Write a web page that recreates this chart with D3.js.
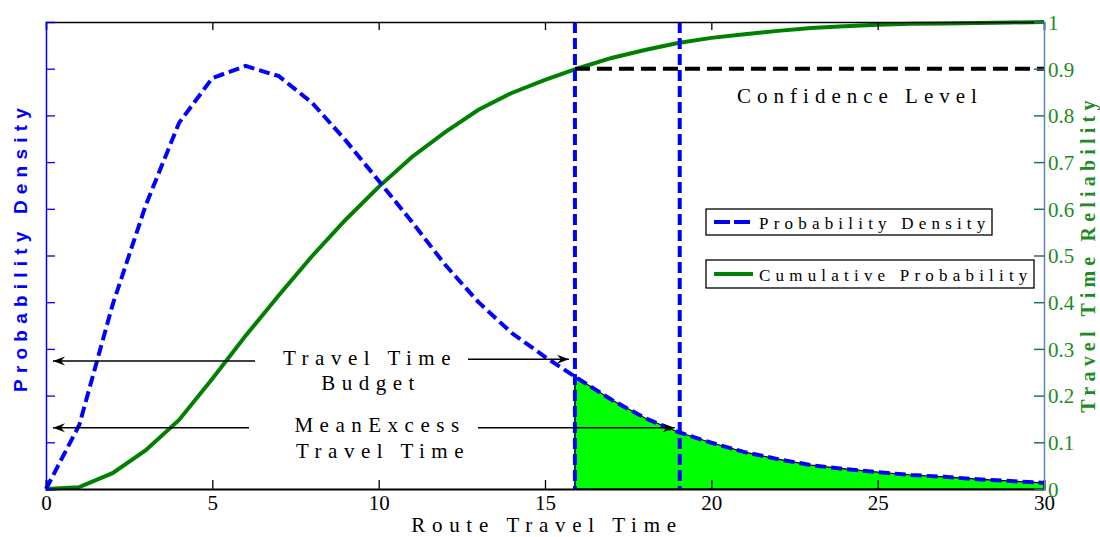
<!DOCTYPE html>
<html>
<head>
<meta charset="utf-8">
<script src="https://cdn.jsdelivr.net/npm/d3@7"></script>
<style>
    body { margin: 0; background: #fff; }
    svg { display: block; }
    .serif { font-family: "Liberation Serif", "Times New Roman", serif; }
</style>
</head>
<body>
<div id="graphDiv"></div>
<script>
// route travel time (x), probability density (left), cumulative probability (right)
var travelTime = [0, 1, 2, 3, 4, 5, 6, 7, 8, 9, 10, 11, 12, 13, 14, 15,
    16, 17, 18, 19, 20, 21, 22, 23, 24, 25, 26, 27, 28, 29, 30];
var density = [0, 0.0137, 0.0394, 0.0608, 0.0784, 0.0880, 0.0906, 0.0884, 0.0827, 0.0747,
    0.0660, 0.0572, 0.0480, 0.0400, 0.0334, 0.0283, 0.0236, 0.0191, 0.0152, 0.0122,
    0.0099, 0.0079, 0.0064, 0.0051, 0.0043, 0.0036, 0.0030, 0.0026, 0.0021, 0.0017, 0.0013];
var cumulative = [0, 0.004, 0.034, 0.083, 0.148, 0.236, 0.328, 0.415, 0.499, 0.576,
    0.647, 0.711, 0.764, 0.812, 0.848, 0.876, 0.901, 0.923, 0.940, 0.955,
    0.966, 0.974, 0.981, 0.987, 0.991, 0.994, 0.996, 0.997, 0.998, 0.999, 1.0];

var xTicks = [0, 5, 10, 15, 20, 25, 30];
var rightTicks = [0, 0.1, 0.2, 0.3, 0.4, 0.5, 0.6, 0.7, 0.8, 0.9, 1];
var leftTicks = [0.01, 0.02, 0.03, 0.04, 0.05, 0.06, 0.07, 0.08, 0.09];

var confidenceLevel = 0.9;
var travelTimeBudget = 15.9;
var meanExcessTime = 19.05;

(function () {
    var W = 1100, H = 537;
    var pLeft = 46, pRight = 1044, pTop = 22, pBottom = 489;

    var svg = d3.select("#graphDiv").append("svg")
        .attr("width", W).attr("height", H);

    var xScale = d3.scaleLinear().domain([0, 30]).range([pLeft, pRight]);
    var yRight = d3.scaleLinear().domain([0, 1]).range([pBottom, pTop]);
    var yLeft = d3.scaleLinear().domain([0, 0.1]).range([pBottom, pTop]);

    var pdfData = travelTime.map(function (t, i) { return {x: t, y: density[i]}; });
    var cdfData = travelTime.map(function (t, i) { return {x: t, y: cumulative[i]}; });

    // shaded tail area (right of travel time budget)
    svg.append("clipPath").attr("id", "tailClip")
        .append("rect")
        .attr("x", xScale(travelTimeBudget)).attr("y", pTop)
        .attr("width", pRight - xScale(travelTimeBudget)).attr("height", pBottom - pTop);

    var areaFunc = d3.area()
        .x(function (d) { return xScale(d.x); })
        .y0(pBottom)
        .y1(function (d) { return yLeft(d.y); });
    svg.append("path")
        .attr("clip-path", "url(#tailClip)")
        .attr("d", areaFunc(pdfData))
        .attr("fill", "#00ff00")
        .attr("stroke", "#000")
        .attr("stroke-width", 1.2);

    // left edge of the shaded area
    var bisect = d3.bisector(function (d) { return d.x; }).left;
    var bi = bisect(pdfData, travelTimeBudget);
    var p0 = pdfData[bi - 1], p1 = pdfData[bi];
    var budgetDensity = p0.y + (p1.y - p0.y) * (travelTimeBudget - p0.x) / (p1.x - p0.x);
    svg.append("line")
        .attr("x1", xScale(travelTimeBudget)).attr("x2", xScale(travelTimeBudget))
        .attr("y1", pBottom).attr("y2", yLeft(budgetDensity))
        .attr("stroke", "#000").attr("stroke-width", 1.5);

    var lineFunc = d3.line()
        .x(function (d) { return xScale(d.x); })
        .y(function (d) { return yRight(d.y); });
    var pdfLine = d3.line()
        .x(function (d) { return xScale(d.x); })
        .y(function (d) { return yLeft(d.y); });

    // cumulative curve
    svg.append("path")
        .attr("d", lineFunc(cdfData))
        .attr("fill", "none")
        .attr("stroke", "#008000")
        .attr("stroke-width", 4);

    // density curve
    svg.append("path")
        .attr("d", pdfLine(pdfData))
        .attr("fill", "none")
        .attr("stroke", "#0000ff")
        .attr("stroke-width", 4)
        .attr("stroke-dasharray", "11,5");

    // confidence level line
    svg.append("line")
        .attr("x1", xScale(travelTimeBudget)).attr("x2", pRight)
        .attr("y1", yRight(confidenceLevel)).attr("y2", yRight(confidenceLevel))
        .attr("stroke", "#000").attr("stroke-width", 4)
        .attr("stroke-dasharray", "15,7");

    // vertical budget / mean excess lines
    [travelTimeBudget, meanExcessTime].forEach(function (v) {
        svg.append("line")
            .attr("x1", xScale(v)).attr("x2", xScale(v))
            .attr("y1", pTop).attr("y2", pBottom)
            .attr("stroke", "#0000ff").attr("stroke-width", 4)
            .attr("stroke-dasharray", "11,5");
    });

    // axes
    var xAxis = d3.axisBottom(xScale).tickValues(xTicks).tickSize(-9).tickPadding(6);
    var gx = svg.append("g").attr("transform", "translate(0," + pBottom + ")").call(xAxis);
    gx.select(".domain").attr("stroke", "#000").attr("stroke-width", 2);
    gx.selectAll(".tick line").attr("stroke", "#000").attr("stroke-width", 1.3);
    gx.selectAll(".tick text").attr("class", "serif").attr("font-size", 21).attr("fill", "#000");

    var xTop = d3.axisTop(xScale).tickValues(xTicks).tickSize(-8).tickFormat("");
    var gxt = svg.append("g").attr("transform", "translate(0," + pTop + ")").call(xTop);
    gxt.select(".domain").attr("stroke", "#000").attr("stroke-width", 1.5);
    gxt.selectAll(".tick line").attr("stroke", "#000").attr("stroke-width", 1.3);

    var yAxisL = d3.axisRight(yLeft).tickValues(leftTicks).tickSize(9).tickFormat("");
    var gyl = svg.append("g").attr("transform", "translate(" + pLeft + ",0)").call(yAxisL);
    gyl.select(".domain").attr("stroke", "#0000ff").attr("stroke-width", 1.5);
    gyl.selectAll(".tick line").attr("stroke", "#0000ff").attr("stroke-width", 1.3);

    var yAxisR = d3.axisLeft(yRight).tickValues(rightTicks).tickSize(10)
        .tickFormat(function (d) { return d3.format("~g")(d); });
    var gyr = svg.append("g").attr("transform", "translate(" + pRight + ",0)").call(yAxisR);
    gyr.select(".domain").attr("stroke", "#5b86b4").attr("stroke-width", 1.5);
    gyr.selectAll(".tick line").attr("stroke", "#2c6e5e").attr("stroke-width", 1.5);
    gyr.selectAll(".tick text")
        .attr("class", "serif")
        .attr("text-anchor", "start")
        .attr("x", 4)
        .attr("dy", "0.35em")
        .attr("font-size", 21)
        .attr("fill", "#1f8a1f");

    // axis labels
    svg.append("text")
        .attr("class", "serif")
        .attr("x", (pLeft + pRight) / 2 + 2).attr("y", 532)
        .attr("text-anchor", "middle")
        .attr("font-size", 21)
        .style("letter-spacing", "6.7px")
        .text("Route Travel Time");

    svg.append("text")
        .attr("transform", "translate(27,247) rotate(-90)")
        .attr("text-anchor", "middle")
        .attr("font-family", "'Liberation Sans', Arial, sans-serif")
        .attr("font-weight", "bold")
        .attr("font-size", 19)
        .attr("fill", "#0000ff")
        .style("letter-spacing", "6.2px")
        .text("Probability Density");

    svg.append("text")
        .attr("class", "serif")
        .attr("transform", "translate(1095,254) rotate(-90)")
        .attr("text-anchor", "middle")
        .attr("font-weight", "bold")
        .attr("font-size", 20)
        .attr("fill", "#1f8a1f")
        .style("letter-spacing", "5.2px")
        .text("Travel Time Reliability");

    // annotations
    svg.append("text")
        .attr("class", "serif")
        .attr("x", 860).attr("y", 103)
        .attr("text-anchor", "middle")
        .attr("font-size", 21)
        .style("letter-spacing", "6px")
        .text("Confidence Level");

    var notes = [
        {text: "Travel Time", x: 370, y: 365},
        {text: "Budget", x: 371, y: 390},
        {text: "MeanExcess", x: 380, y: 432},
        {text: "Travel Time", x: 383, y: 458}
    ];
    notes.forEach(function (n) {
        svg.append("text")
            .attr("class", "serif")
            .attr("x", n.x).attr("y", n.y)
            .attr("text-anchor", "middle")
            .attr("font-size", 21)
            .style("letter-spacing", "6.5px")
            .text(n.text);
    });

    svg.append("defs").append("marker")
        .attr("id", "arrow")
        .attr("viewBox", "-12 -6 14 12")
        .attr("refX", 0).attr("refY", 0)
        .attr("markerWidth", 14).attr("markerHeight", 12)
        .attr("markerUnits", "userSpaceOnUse")
        .attr("orient", "auto")
        .append("path")
        .attr("d", "M0,0 L-12,-4.5 L-8,0 L-12,4.5 Z")
        .attr("fill", "#000");

    var arrows = [
        {x1: 255, x2: xScale(0) + 7, y: 0.274},
        {x1: 468, x2: xScale(travelTimeBudget) - 6, y: 0.278},
        {x1: 249, x2: xScale(0) + 7, y: 0.131},
        {x1: 478, x2: xScale(meanExcessTime) - 5, y: 0.131}
    ];
    arrows.forEach(function (a) {
        svg.append("line")
            .attr("x1", a.x1).attr("x2", a.x2)
            .attr("y1", yRight(a.y)).attr("y2", yRight(a.y))
            .attr("stroke", "#000").attr("stroke-width", 1.5)
            .attr("marker-end", "url(#arrow)");
    });

    // legend
    var legend = [
        {label: "Probability Density", color: "#0000ff", dash: "16,4", y: 209, w: 286, h: 26},
        {label: "Cumulative Probability", color: "#008000", dash: null, y: 260, w: 328, h: 28}
    ];
    legend.forEach(function (l) {
        var g = svg.append("g").attr("transform", "translate(706," + l.y + ")");
        g.append("rect")
            .attr("width", l.w).attr("height", l.h)
            .attr("fill", "#fff").attr("stroke", "#000").attr("stroke-width", 1.3);
        g.append("line")
            .attr("x1", 8).attr("x2", l.dash ? 44 : 47)
            .attr("y1", l.h / 2).attr("y2", l.h / 2)
            .attr("stroke", l.color).attr("stroke-width", 4)
            .attr("stroke-dasharray", l.dash);
        g.append("text")
            .attr("class", "serif")
            .attr("x", 53).attr("y", l.h / 2 + 7)
            .attr("font-size", 17)
            .style("letter-spacing", "5.2px")
            .text(l.label);
    });
})();
</script>
</body>
</html>
